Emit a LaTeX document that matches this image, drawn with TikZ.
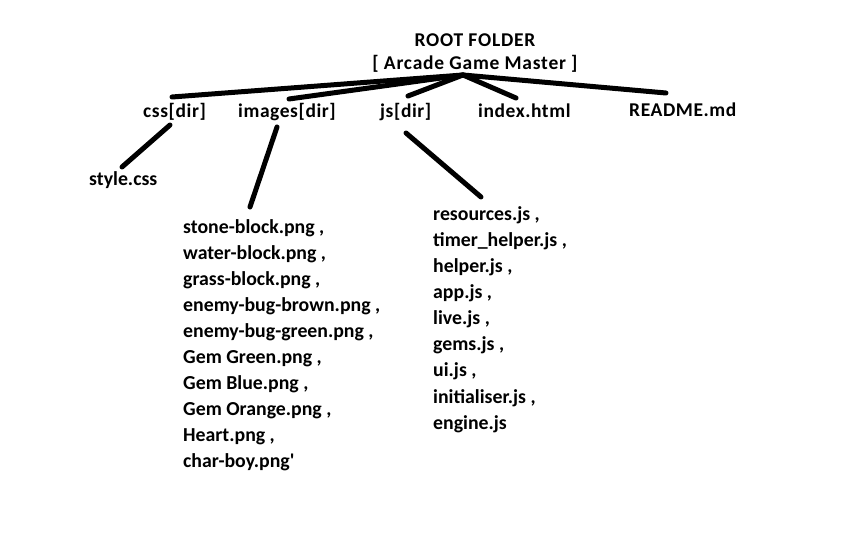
\documentclass[tikz,border=0pt]{standalone}
\usepackage{fontspec}
\setmainfont{Carlito}[BoldFont={* Bold}]
\begin{document}
\begin{tikzpicture}[x=1pt,y=-1pt,
  lbl/.style={inner sep=0pt,anchor=base west,font=\fontsize{19.8}{26}\selectfont\bfseries},
  top/.style={inner sep=0pt,anchor=base west,font=\fontsize{19.5}{26}\selectfont\bfseries\addfontfeatures{LetterSpace=3}},
  ttl/.style={inner sep=0pt,anchor=base,font=\fontsize{19.5}{26}\selectfont\bfseries\addfontfeatures{LetterSpace=4}},
  conn/.style={line width=5pt,line cap=round}]
\useasboundingbox[fill=white] (0,0) rectangle (854,534);
% titles
\node[ttl] (root) at (475,46.7) {ROOT FOLDER};
\node[ttl] (sub) at (475,70) {[ Arcade Game Master ]};
% first level
\node[top] (css) at (143,117.7) {css[dir]};
\node[top] (img) at (238,117.7) {images[dir]};
\node[top] (js) at (380,117.7) {js[dir]};
\node[top] (idx) at (478,117.7) {index.html};
\node[top] (rdm) at (629,117) {README.md};
\node[lbl] (sty) at (89,186) {style.css};
% lists
\node[lbl] (i1) at (183,233.3) {stone-block.png ,};
\node[lbl] (i2) at (183,259.3) {water-block.png ,};
\node[lbl] (i3) at (183,285.3) {grass-block.png ,};
\node[lbl] (i4) at (183,311.3) {enemy-bug-brown.png ,};
\node[lbl] (i5) at (183,337.3) {enemy-bug-green.png ,};
\node[lbl] (i6) at (183,363.3) {Gem Green.png ,};
\node[lbl] (i7) at (183,389.3) {Gem Blue.png ,};
\node[lbl] (i8) at (183,415.3) {Gem Orange.png ,};
\node[lbl] (i9) at (183,441.3) {Heart.png ,};
\node[lbl] (i10) at (183,467.3) {char-boy.png\textquotesingle};
\node[lbl] (j1) at (433,221) {resources.js ,};
\node[lbl] (j2) at (433,247) {timer\_helper.js ,};
\node[lbl] (j3) at (433,273) {helper.js ,};
\node[lbl] (j4) at (433,299) {app.js ,};
\node[lbl] (j5) at (433,325) {live.js ,};
\node[lbl] (j6) at (433,351) {gems.js ,};
\node[lbl] (j7) at (433,377) {ui.js ,};
\node[lbl] (j8) at (433,403) {initialiser.js ,};
\node[lbl] (j9) at (433,429) {engine.js};
% connector end points
\coordinate (apex) at (463,75);
\coordinate (cssT) at (172,97);
\coordinate (imgT) at (289,99);
\coordinate (jsT) at (408,96);
\coordinate (idxT) at (516,98);
\coordinate (rdmT) at (666,93);
\coordinate (cssB) at (170,125);
\coordinate (styT) at (122,167);
\coordinate (imgB) at (277,127);
\coordinate (i1T) at (250,207);
\coordinate (jsB) at (406,133);
\coordinate (j1T) at (481,197);
% connectors
\draw[conn] (apex) -- (cssT);
\draw[conn] (apex) -- (imgT);
\draw[conn] (apex) -- (jsT);
\draw[conn] (apex) -- (idxT);
\draw[conn] (apex) -- (rdmT);
\draw[conn] (cssB) -- (styT);
\draw[conn] (imgB) -- (i1T);
\draw[conn] (jsB) -- (j1T);
\end{tikzpicture}
\end{document}
